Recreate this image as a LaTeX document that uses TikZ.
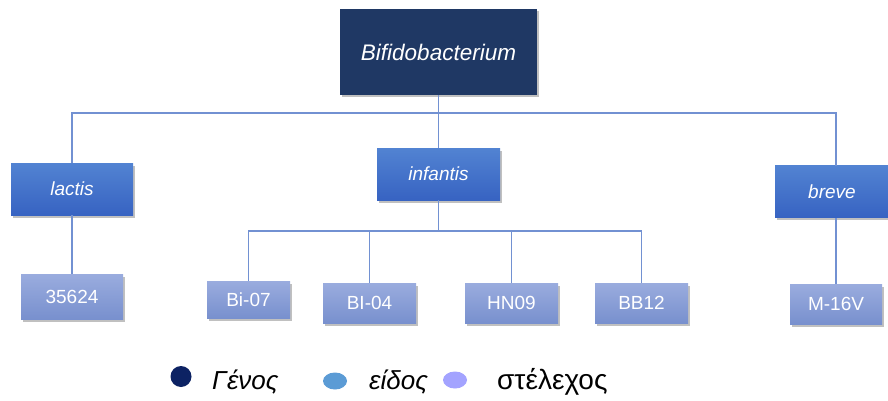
\documentclass[tikz,border=0pt]{standalone}
\usepackage{fontspec}
\setmainfont{Liberation Sans}
\usetikzlibrary{shadows,shapes.geometric}
\definecolor{navy}{HTML}{1F3864}
\definecolor{lvtwoT}{HTML}{5283D2}
\definecolor{lvtwoB}{HTML}{3763C2}
\definecolor{lvthrT}{HTML}{9AACDE}
\definecolor{lvthrB}{HTML}{7890CE}
\definecolor{conn}{HTML}{7291D2}
\definecolor{dotA}{HTML}{0C2263}
\definecolor{dotB}{HTML}{5B9BD5}
\definecolor{dotC}{HTML}{A3A3FF}
\tikzset{
  shad/.style={drop shadow={shadow xshift=1.5pt,shadow yshift=-2.5pt,opacity=0.35,fill=black!70}},
  genusbox/.style={shad,fill=navy,draw=none,minimum width=197pt,minimum height=86pt,text=white,font=\fontsize{22.5}{26}\selectfont\itshape},
  speciesbox/.style={shad,top color=lvtwoT,bottom color=lvtwoB,draw=none,minimum width=122pt,minimum height=52pt,text=white,font=\fontsize{19}{22}\selectfont\itshape},
  strainbox/.style={shad,top color=lvthrT,bottom color=lvthrB,draw=none,minimum height=40pt,text=white,font=\fontsize{19}{22}\selectfont},
  link/.style={draw=conn,line width=1.5pt},
  legtext/.style={anchor=base west,font=\fontsize{26}{30}\selectfont,inner sep=0pt}
}
\begin{document}
\begin{tikzpicture}[x=1pt,y=-1pt]
\path[use as bounding box,fill=white] (0,0) rectangle (888,401);
% nodes
\node[genusbox] (top) at (438.5,52) {Bifidobacterium};
\node[speciesbox] (lactis) at (72,189) {lactis};
\node[speciesbox,minimum width=123pt] (infantis) at (438.5,174) {infantis};
\node[speciesbox,minimum width=114pt] (breve) at (832,191.5) {breve};
\node[strainbox,minimum width=102pt,minimum height=45pt] (s1) at (72,296.5) {35624};
\node[strainbox,minimum width=83pt,minimum height=37pt] (s2) at (248.5,299.5) {Bi-07};
\node[strainbox,minimum width=93pt] (s3) at (369.5,303) {BI-04};
\node[strainbox,minimum width=93pt] (s4) at (511.5,303) {HN09};
\node[strainbox,minimum width=93pt] (s5) at (641.5,303) {BB12};
\node[strainbox,minimum width=92pt] (s6) at (836,304) {M-16V};
\coordinate (hubA) at (438.5,113);
\coordinate (hubB) at (438.5,231);
\coordinate (bjoin) at (836,165.5);
% connectors
\draw[link] (top.south) -- (infantis.north);
\draw[link] (lactis.north) |- (hubA) -| (bjoin);
\draw[link] (lactis.south) -- (s1.north);
\draw[link] (s6.north) -- (s6.north |- breve.south);
\draw[link] (infantis.south) -- (hubB);
\draw[link] (s2.north) |- (hubB) -| (s5.north);
\draw[link] (s3.north) -- (s3.north |- hubB);
\draw[link] (s4.north) -- (s4.north |- hubB);
% legend
\node[circle,fill=dotA,minimum size=21pt,inner sep=0pt] (la) at (181,376.5) {};
\node[legtext] (lta) at (212,389) {\itshape Γένος};
\node[ellipse,fill=dotB,minimum width=24pt,minimum height=17pt,inner sep=0pt] (lb) at (335,381) {};
\node[legtext] (ltb) at (369,389) {\itshape είδος};
\node[ellipse,fill=dotC,minimum width=24pt,minimum height=17pt,inner sep=0pt] (lc) at (455,380) {};
\node[legtext,font=\fontsize{28}{32}\selectfont] (ltc) at (497,389) {στέλεχος};
\end{tikzpicture}
\end{document}
